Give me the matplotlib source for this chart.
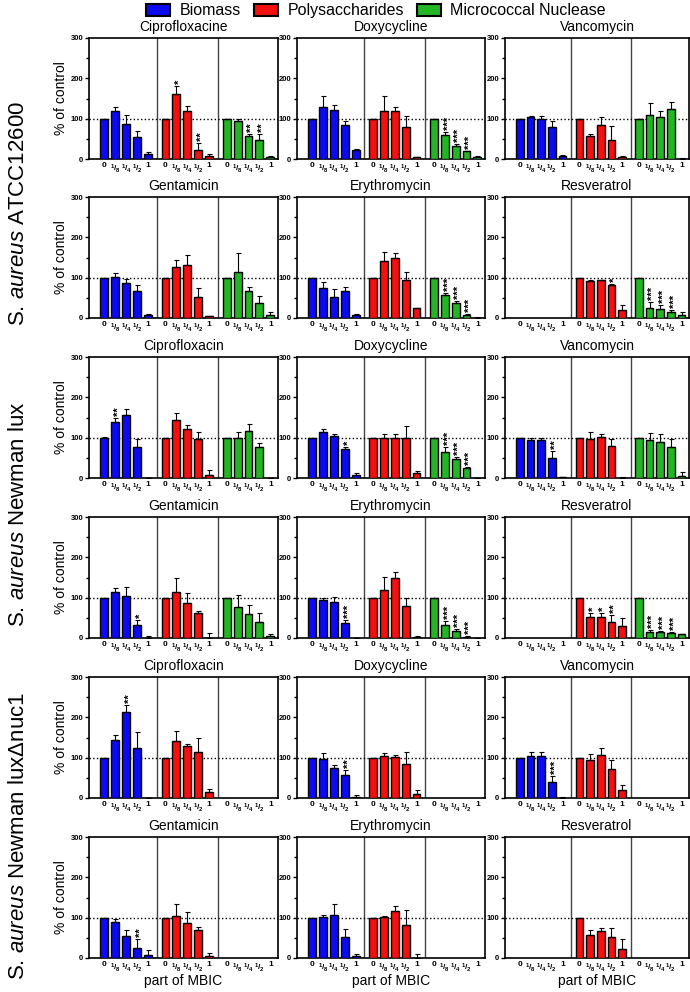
import numpy as np
import matplotlib
matplotlib.use('Agg')
import matplotlib.pyplot as plt
from matplotlib.patches import Patch
from matplotlib.ticker import MultipleLocator
from matplotlib.transforms import offset_copy

plt.rcParams['font.family'] = ['Liberation Sans', 'DejaVu Sans']
plt.rcParams['mathtext.fontset'] = 'custom'
plt.rcParams['mathtext.rm'] = 'Liberation Sans'
plt.rcParams['mathtext.it'] = 'Liberation Sans:italic'
plt.rcParams['mathtext.bf'] = 'Liberation Sans:bold'
plt.rcParams['mathtext.default'] = 'bf'

N = None

groups = ['Biomass', 'Polysaccharides', 'Micrococcal Nuclease']
colors = ['#0b0bf2', '#f21010', '#23b523']
tick_labels = ['0', '$^1/_8$', '$^1/_4$', '$^1/_2$', '1']
strains = ['ATCC12600', 'Newman lux', 'Newman lux\u0394nuc1']

# S. aureus ATCC12600
a_cip_mean = [100, 118, 88, 55, 13, 100, 160, 118, 22, 8, 100, 93, 58, 47, 4]
a_cip_err = [0, 10, 20, 14, 5, 0, 22, 13, 17, 5, 0, 7, 5, 14, 4]
a_cip_sig = {6: '*', 8: '**', 12: '**', 13: '**'}

a_dox_mean = [100, 128, 121, 84, 22, 100, 118, 120, 79, 4, 100, 59, 33, 19, 5]
a_dox_err = [0, 28, 12, 11, 4, 0, 37, 9, 28, 2, 0, 7, 4, 2, 2]
a_dox_sig = {11: '***', 12: '***', 13: '***'}

a_van_mean = [100, 105, 100, 80, 8, 100, 57, 84, 47, 4, 100, 108, 104, 124, 1]
a_van_err = [0, 2, 7, 15, 2, 0, 6, 19, 34, 4, 0, 30, 15, 17, 2]
a_van_sig = {}

a_gen_mean = [100, 102, 86, 68, 8, 100, 127, 131, 52, 4, 100, 113, 67, 37, 8]
a_gen_err = [0, 10, 10, 14, 3, 0, 17, 26, 23, 2, 0, 49, 9, 18, 8]
a_gen_sig = {}

a_ery_mean = [100, 75, 51, 68, 7, 100, 142, 149, 95, 24, 100, 57, 36, 7, 1]
a_ery_err = [0, 15, 21, 9, 4, 0, 22, 12, 19, 2, 0, 6, 6, 2, 1]
a_ery_sig = {11: '***', 12: '***', 13: '***'}

a_res_mean = [N, N, N, N, N, 100, 91, 93, 82, 20, 100, 26, 23, 16, 8]
a_res_err = [N, N, N, N, N, 0, 3, 2, 2, 12, 0, 14, 10, 5, 6]
a_res_sig = {8: '*', 11: '***', 12: '***', 13: '***'}

# S. aureus Newman lux
n_cip_mean = [100, 139, 157, 78, 0, 100, 145, 121, 97, 8, 100, 100, 116, 77, 0]
n_cip_err = [2, 9, 14, 18, 0, 0, 17, 11, 17, 13, 0, 13, 17, 9, 0]
n_cip_sig = {1: '**'}

n_dox_mean = [100, 113, 103, 71, 8, 100, 100, 100, 100, 12, 100, 65, 46, 25, 0]
n_dox_err = [0, 8, 7, 7, 5, 0, 10, 10, 28, 6, 0, 11, 6, 3, 0]
n_dox_sig = {3: '*', 11: '***', 12: '***', 13: '***'}

n_van_mean = [100, 95, 93, 49, 2, 100, 97, 102, 80, 0, 100, 95, 89, 77, 6]
n_van_err = [0, 3, 6, 17, 1, 0, 18, 8, 17, 2, 0, 16, 19, 19, 8]
n_van_sig = {3: '**'}

n_gen_mean = [100, 114, 105, 33, 1, 100, 115, 87, 61, 0, 100, 77, 59, 39, 5]
n_gen_err = [0, 10, 22, 11, 3, 0, 33, 24, 5, 13, 0, 29, 22, 23, 6]
n_gen_sig = {3: '*'}

n_ery_mean = [100, 94, 90, 36, 0, 100, 119, 148, 79, 2, 100, 33, 17, 3, 0]
n_ery_err = [0, 6, 11, 8, 0, 0, 33, 16, 20, 2, 0, 8, 5, 2, 0]
n_ery_sig = {3: '***', 11: '***', 12: '***', 13: '***'}

n_res_mean = [N, N, N, N, N, 100, 52, 52, 40, 29, 100, 16, 14, 12, 9]
n_res_err = [N, N, N, N, N, 0, 9, 9, 17, 20, 0, 5, 4, 2, 2]
n_res_sig = {6: '*', 7: '*', 8: '**', 11: '***', 12: '***', 13: '***'}

# S. aureus Newman lux-delta-nuc1
d_cip_mean = [100, 143, 213, 124, 0, 100, 141, 130, 113, 14, N, N, N, N, N]
d_cip_err = [0, 14, 17, 39, 0, 0, 24, 5, 36, 9, N, N, N, N, N]
d_cip_sig = {2: '**'}

d_dox_mean = [100, 97, 75, 57, 3, 100, 103, 102, 85, 11, N, N, N, N, N]
d_dox_err = [0, 15, 8, 12, 5, 0, 8, 4, 28, 8, N, N, N, N, N]
d_dox_sig = {3: '**'}

d_van_mean = [100, 105, 103, 40, 1, 100, 93, 106, 71, 20, N, N, N, N, N]
d_van_err = [0, 8, 10, 15, 1, 0, 16, 18, 23, 13, N, N, N, N, N]
d_van_sig = {3: '***'}

d_gen_mean = [100, 89, 54, 26, 7, 100, 103, 88, 70, 6, N, N, N, N, N]
d_gen_err = [0, 7, 15, 20, 12, 0, 30, 25, 8, 6, N, N, N, N, N]
d_gen_sig = {3: '**'}

d_ery_mean = [100, 101, 106, 51, 4, 100, 101, 116, 83, 0, N, N, N, N, N]
d_ery_err = [0, 6, 28, 22, 5, 0, 4, 14, 36, 11, N, N, N, N, N]
d_ery_sig = {}

d_res_mean = [N, N, N, N, N, 100, 58, 68, 53, 23, N, N, N, N, N]
d_res_err = [N, N, N, N, N, 0, 11, 6, 22, 25, N, N, N, N, N]
d_res_sig = {}

panels = [
    [('Ciprofloxacine', a_cip_mean, a_cip_err, a_cip_sig),
     ('Doxycycline', a_dox_mean, a_dox_err, a_dox_sig),
     ('Vancomycin', a_van_mean, a_van_err, a_van_sig)],
    [('Gentamicin', a_gen_mean, a_gen_err, a_gen_sig),
     ('Erythromycin', a_ery_mean, a_ery_err, a_ery_sig),
     ('Resveratrol', a_res_mean, a_res_err, a_res_sig)],
    [('Ciprofloxacin', n_cip_mean, n_cip_err, n_cip_sig),
     ('Doxycycline', n_dox_mean, n_dox_err, n_dox_sig),
     ('Vancomycin', n_van_mean, n_van_err, n_van_sig)],
    [('Gentamicin', n_gen_mean, n_gen_err, n_gen_sig),
     ('Erythromycin', n_ery_mean, n_ery_err, n_ery_sig),
     ('Resveratrol', n_res_mean, n_res_err, n_res_sig)],
    [('Ciprofloxacin', d_cip_mean, d_cip_err, d_cip_sig),
     ('Doxycycline', d_dox_mean, d_dox_err, d_dox_sig),
     ('Vancomycin', d_van_mean, d_van_err, d_van_sig)],
    [('Gentamicin', d_gen_mean, d_gen_err, d_gen_sig),
     ('Erythromycin', d_ery_mean, d_ery_err, d_ery_sig),
     ('Resveratrol', d_res_mean, d_res_err, d_res_sig)],
]

# bar positions: 3 groups of 5
gap = 5.6
xpos = np.concatenate([np.arange(5) + g * gap for g in range(3)])
dividers = [4.8, 4.8 + gap]

W, H = 690, 992
fig = plt.figure(figsize=(W / 100, H / 100), dpi=100)

lefts = [89, 297, 505]
widths = [189, 188, 184]
tops = [38, 197, 357, 517, 677, 837]
ph = 121

for r, row in enumerate(panels):
    for c, (title, mean, err, sig) in enumerate(row):
        ax = fig.add_axes([lefts[c] / W, 1 - (tops[r] + ph) / H, widths[c] / W, ph / H])
        for g in range(3):
            idx = range(g * 5, g * 5 + 5)
            xs = [xpos[i] for i in idx if mean[i] is not None]
            ys = [mean[i] for i in idx if mean[i] is not None]
            es = [err[i] for i in idx if mean[i] is not None]
            if not xs:
                continue
            ax.bar(xs, ys, width=0.72, color=colors[g], edgecolor='black', linewidth=1.0, zorder=3)
            ax.errorbar(xs, ys, yerr=[np.zeros(len(es)), es], fmt='none', ecolor='black',
                        elinewidth=0.8, capsize=1.8, capthick=0.8, zorder=4)
        star_tr = offset_copy(ax.transData, fig=fig, x=2.6, y=0, units='points')
        for i, s in sig.items():
            top = mean[i] + err[i]
            ax.text(xpos[i], top + 5, s, rotation=90, rotation_mode='anchor',
                    ha='left', va='center', fontsize=8, fontweight='bold',
                    transform=star_tr, zorder=5)
        ax.axhline(100, color='black', linestyle=':', linewidth=1.0, zorder=2)
        for d in dividers:
            ax.axvline(d, color='#444444', linewidth=1.0, zorder=1)
        ax.set_xlim(-1.4, 15.9)
        ax.set_ylim(0, 300)
        ax.set_yticks([0, 100, 200, 300])
        ax.yaxis.set_minor_locator(MultipleLocator(50))
        ax.set_xticks(xpos)
        ax.set_xticklabels(tick_labels * 3)
        ax.tick_params(axis='x', length=0, pad=2.5, labelsize=6)
        ax.tick_params(axis='y', which='major', length=3, width=1, pad=1, labelsize=5.5)
        ax.tick_params(axis='y', which='minor', length=2, width=1)
        for lab in ax.get_yticklabels() + ax.get_xticklabels():
            lab.set_fontweight('bold')
        for sp in ax.spines.values():
            sp.set_linewidth(1.2)
        ax.set_title(title, fontsize=10, pad=5)
        if c == 0:
            ax.set_ylabel('% of control', fontsize=10, labelpad=2)
        if r == 5:
            ax.set_xlabel('part of MBIC', fontsize=10, labelpad=0)

# strain labels on the left
label_y = [213, 514, 836]
for k, s in enumerate(strains):
    fig.text(19 / W, 1 - label_y[k] / H, 'S. $\\mathit{aureus}$ ' + s, rotation=90,
             ha='center', va='center', fontsize=16)

handles = [Patch(facecolor=colors[g], edgecolor='black', linewidth=1.5) for g in range(3)]
fig.legend(handles, groups, loc='upper center', bbox_to_anchor=(0.545, 1.003), ncol=3,
           frameon=False, fontsize=11.5, handlelength=1.5, handleheight=0.75,
           columnspacing=0.8, handletextpad=0.6, borderaxespad=0.)

fig.savefig('out.png', dpi=100)
